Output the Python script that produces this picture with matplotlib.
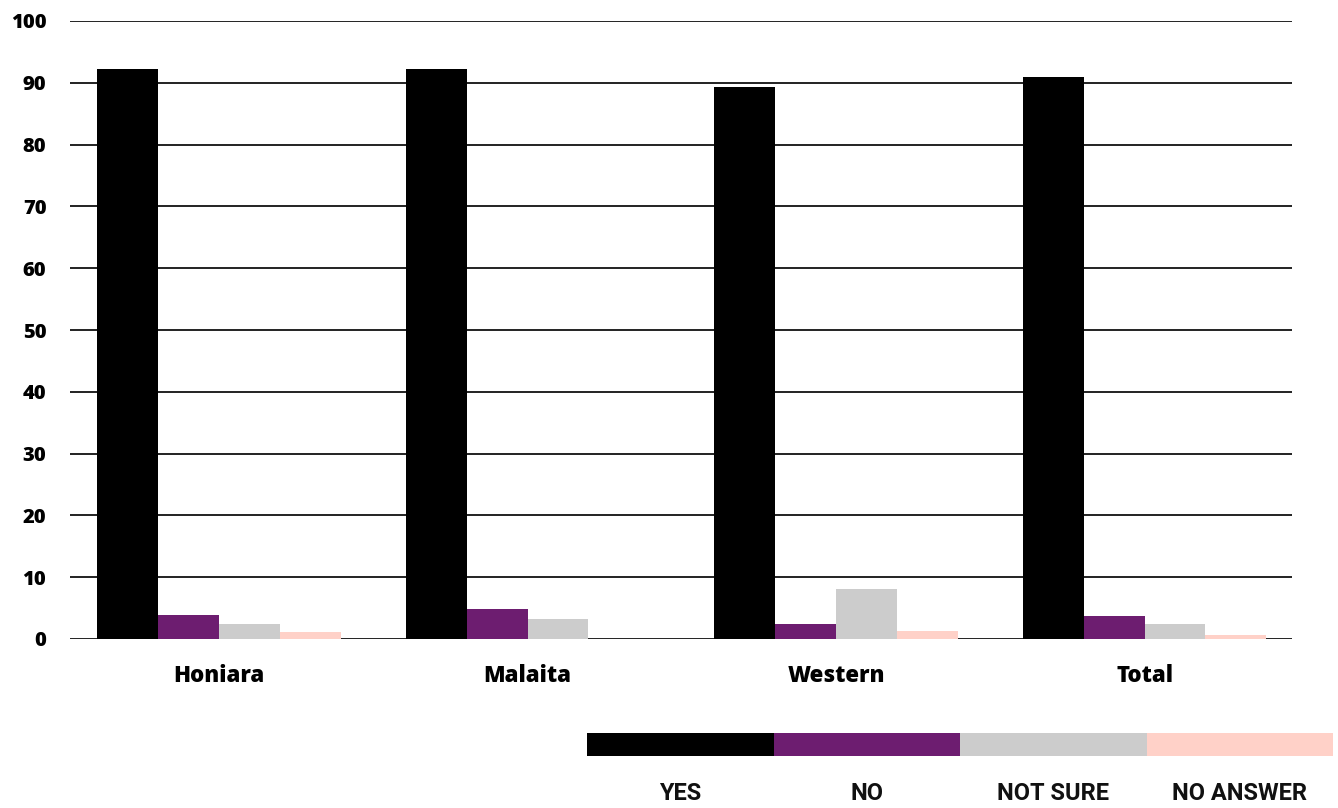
import matplotlib
matplotlib.use("Agg")
import matplotlib.pyplot as plt
from matplotlib.patches import Rectangle
import numpy as np

regions = ["Honiara", "Malaita", "Western", "Total"]
series_names = ["YES", "NO", "NOT SURE", "NO ANSWER"]
yes = [92.2, 92.2, 89.3, 90.9]
no = [3.9, 4.9, 2.4, 3.7]
not_sure = [2.4, 3.2, 8.1, 2.4]
no_answer = [1.1, 0.0, 1.3, 0.6]
yticks = [0, 10, 20, 30, 40, 50, 60, 70, 80, 90, 100]

colors = ["#000000", "#6d1d70", "#cccccc", "#ffd1c8"]
series = [yes, no, not_sure, no_answer]

fig = plt.figure(figsize=(13.38, 8.08), dpi=100)
ax = fig.add_axes([70 / 1338, 169 / 808, 1222 / 1338, 618 / 808])

x = np.arange(len(regions))
width = 0.197
for i, (vals, c) in enumerate(zip(series, colors)):
    ax.bar(x + (i - 1.5) * width, vals, width=width, color=c, zorder=3, linewidth=0)

ax.set_xlim(-0.483, 3.478)
ax.set_ylim(0, 100)
ax.set_yticks(yticks)
ax.set_yticklabels([str(t) for t in yticks], fontfamily="Open Sans", fontweight="heavy",
                   fontsize=14.5)
ax.set_xticks(x)
ax.set_xticklabels(regions, fontfamily="Open Sans", fontweight="heavy", fontsize=16)
ax.tick_params(axis="both", length=0)
ax.tick_params(axis="y", pad=17)
ax.tick_params(axis="x", pad=18)
for s in ax.spines.values():
    s.set_visible(False)
ax.yaxis.grid(True, color="#222222", linewidth=1.4, zorder=0)
ax.set_axisbelow(True)

# Legend strip: colour blocks with labels underneath
lax = fig.add_axes([587 / 1338, 0, 746 / 1338, 90 / 808])
lax.set_xlim(0, 4)
lax.set_ylim(0, 90)
lax.axis("off")
for i, (name, c) in enumerate(zip(series_names, colors)):
    lax.add_patch(Rectangle((i, 52), 1, 23, color=c, linewidth=0))
    lax.text(i + 0.5, 14, name, ha="center", va="center", fontsize=17,
             fontfamily="Roboto", fontweight="bold", color="#111111")

fig.savefig("out.png", dpi=100)
